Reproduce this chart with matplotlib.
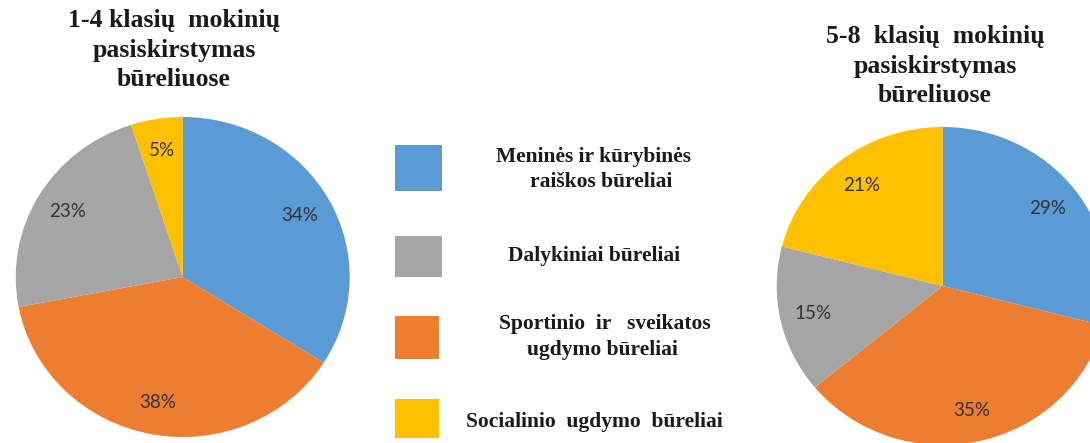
import matplotlib
matplotlib.use("Agg")
import matplotlib.pyplot as plt
from matplotlib.patches import Rectangle

W, H = 1090, 443
categories = ["Meninės ir kūrybinės raiškos būreliai", "Sportinio ir sveikatos ugdymo būreliai",
              "Dalykiniai būreliai", "Socialinio ugdymo būreliai"]
colors = ["#5B9BD5", "#ED7D31", "#A5A5A5", "#FFC000"]
values_1_4 = [34, 38, 23, 5]
values_5_8 = [29, 35, 15, 21]
title_1_4 = ["1-4 klasių  mokinių", "pasiskirstymas", "būreliuose"]
title_5_8 = ["5-8  klasių  mokinių", "pasiskirstymas", "būreliuose"]
legend_order = [0, 2, 1, 3]
legend_labels = [["Meninės ir kūrybinės", "raiškos būreliai"],
                 ["Dalykiniai būreliai"],
                 ["Sportinio  ir   sveikatos", "ugdymo būreliai"],
                 ["Socialinio  ugdymo  būreliai"]]

fig = plt.figure(figsize=(W / 100, H / 100), dpi=100)
fig.patch.set_facecolor("white")

def px_box(x0, y0, x1, y1):
    return [x0 / W, (H - y1) / H, (x1 - x0) / W, (y1 - y0) / H]

def draw_pie(box, vals):
    ax = fig.add_axes(box)
    ax.pie(vals, colors=colors, startangle=90, counterclock=False,
           autopct=lambda p: f"{p:.0f}%", pctdistance=0.8,
           wedgeprops=dict(edgecolor="none", linewidth=0),
           textprops=dict(family="Lato", fontsize=13.5, color="#333333"))
    ax.set_aspect("auto")
    ax.set_xlim(-1, 1)
    ax.set_ylim(-1, 1)
    ax.axis("off")
    return ax

draw_pie(px_box(15.7, 117, 349.7, 437), values_1_4)
draw_pie(px_box(776.7, 127, 1108.7, 445), values_5_8)

serif = "Liberation Serif"
for i, line in enumerate(title_1_4):
    fig.text(174 / W, 1 - (20 + 30 * i) / H, line, ha="center", va="center",
             family=serif, fontweight="bold", fontsize=18.5, color="#1a1a1a")
for i, line in enumerate(title_5_8):
    fig.text(935 / W, 1 - (36 + 30 * i) / H, line, ha="center", va="center",
             family=serif, fontweight="bold", fontsize=18.5, color="#1a1a1a")

# legend
boxes = [(395, 145, 442, 191), (395, 236, 442, 277), (395, 316, 439, 359), (395, 399, 439, 438)]
text_pos = [[(593, 157), (601, 182)], [(594, 256)], [(605, 324), (602, 350)], [(594, 422)]]
for k, idx in enumerate(legend_order):
    x0, y0, x1, y1 = boxes[k]
    fig.patches.append(Rectangle((x0 / W, (H - y1) / H), (x1 - x0) / W, (y1 - y0) / H,
                                 transform=fig.transFigure, facecolor=colors[idx],
                                 edgecolor="none"))
    for line, (tx, ty) in zip(legend_labels[k], text_pos[k]):
        fig.text(tx / W, 1 - ty / H, line, ha="center", va="center", family=serif,
                 fontweight="bold", fontsize=15.5, color="#1a1a1a")

fig.savefig("out.png", dpi=100)
